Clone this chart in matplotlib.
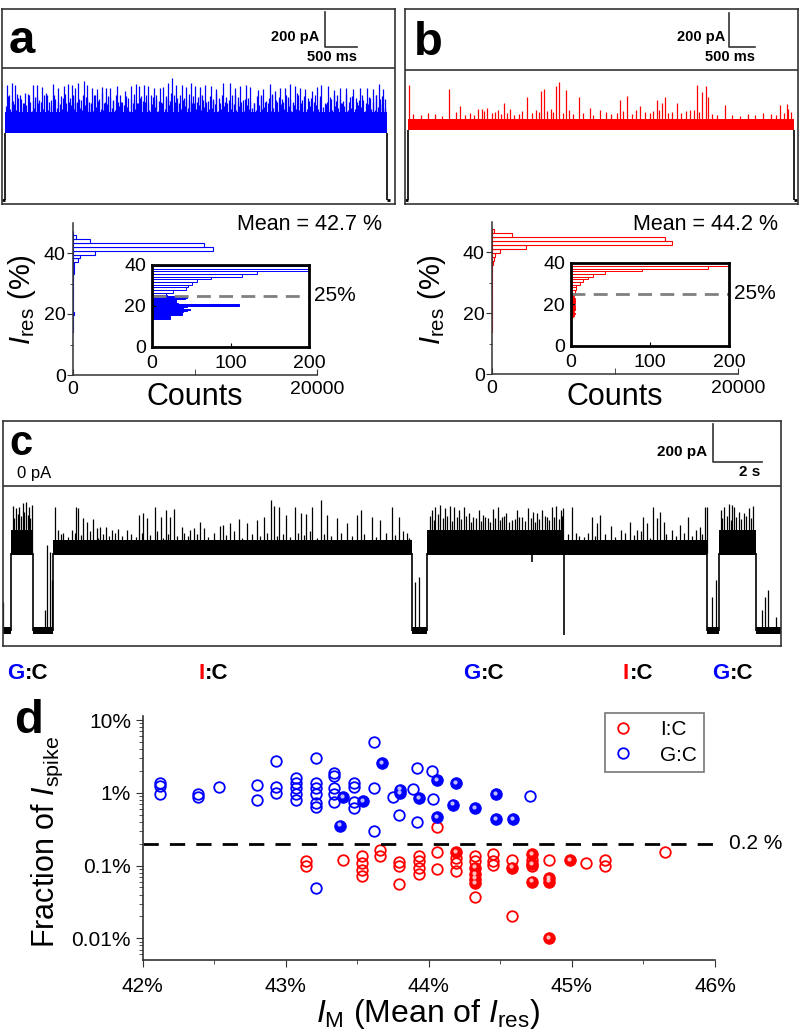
import matplotlib
matplotlib.use('Agg')
import matplotlib.pyplot as plt
from matplotlib.ticker import FixedLocator, NullFormatter, LogLocator
from matplotlib import transforms
from matplotlib.text import Annotation

plt.rcParams['font.family'] = ['Liberation Sans', 'DejaVu Sans']
plt.rcParams['mathtext.fontset'] = 'custom'
plt.rcParams['mathtext.rm'] = 'Liberation Sans'
plt.rcParams['mathtext.it'] = 'Liberation Sans:italic'
plt.rcParams['mathtext.bf'] = 'Liberation Sans:bold'

BLUE = '#0000ff'
RED = '#ff0000'
FRAME = '#333333'

# ------------------------------------------------------------------ data
# panel a trace (time s, current pA)
a_t_end = 5.97
a_open = -752.0
a_band = (-368.0, -248.0)
a_spk_t = [0.04, 0.11, 0.16, 0.24, 0.32, 0.45, 0.50, 0.58, 0.66, 0.75, 0.84, 0.92, 0.99, 1.05, 1.10,
           1.15, 1.24, 1.29, 1.36, 1.44, 1.52, 1.58, 1.65, 1.75, 1.88, 1.98, 2.05, 2.10, 2.17, 2.24,
           2.33, 2.42, 2.48, 2.55, 2.61, 2.68, 2.77, 2.84, 2.91, 2.97, 3.05, 3.13, 3.22, 3.31, 3.41,
           3.52, 3.60, 3.68, 3.77, 3.84, 3.96, 4.04, 4.14, 4.22, 4.30, 4.38, 4.46, 4.54, 4.61, 4.69,
           4.80, 4.88, 4.95, 5.06, 5.14, 5.24, 5.34, 5.45, 5.55, 5.66, 5.76, 5.85, 5.92]
a_spk_i = [-95, -85, -95, -152, -140, -95, -95, -105, -150, -90, -110, -100, -90, -95, -110,
           -85, -70, -95, -110, -120, -105, -115, -110, -100, -130, -100, -90, -100, -95, -100,
           -115, -110, -105, -85, -57, -95, -95, -105, -85, -100, -105, -95, -100, -120, -85,
           -85, -110, -100, -95, -105, -125, -120, -90, -130, -110, -115, -90, -100, -110, -120,
           -130, -105, -95, -100, -125, -115, -115, -120, -110, -115, -120, -90, -120]
a_mid_t = [0.07, 0.13, 0.20, 0.28, 0.36, 0.40, 0.48, 0.54, 0.62, 0.70, 0.79, 0.88, 0.96, 1.02, 1.07,
           1.13, 1.19, 1.27, 1.32, 1.40, 1.48, 1.55, 1.62, 1.70, 1.80, 1.84, 1.93, 2.02, 2.08, 2.13,
           2.20, 2.28, 2.37, 2.45, 2.52, 2.58, 2.64, 2.72, 2.80, 2.88, 2.94, 3.01, 3.09, 3.17, 3.26,
           3.36, 3.46, 3.56, 3.64, 3.72, 3.80, 3.90, 4.00, 4.09, 4.18, 4.26, 4.34, 4.42, 4.50, 4.58,
           4.65, 4.74, 4.84, 4.92, 5.00, 5.10, 5.19, 5.29, 5.40, 5.50, 5.60, 5.71, 5.81, 5.89, 5.95]
a_mid_i = [-155, -185, -170, -200, -145, -195, -165, -180, -150, -190, -175, -160, -200, -170, -150,
           -190, -180, -165, -195, -155, -175, -200, -160, -185, -150, -195, -170, -180, -200, -160,
           -190, -155, -175, -195, -165, -185, -150, -200, -170, -180, -160, -195, -155, -185, -175,
           -200, -165, -150, -190, -180, -170, -200, -160, -185, -155, -195, -175, -165, -200, -150,
           -180, -170, -190, -160, -200, -175, -155, -185, -165, -195, -180, -170, -150, -200, -175]
a_mid2_t = [0.055, 0.12, 0.185, 0.25, 0.30, 0.38, 0.445, 0.505, 0.565, 0.645,
            0.72, 0.77, 0.83, 0.905, 0.935, 1.01, 1.06, 1.10, 1.16, 1.225,
            1.285, 1.355, 1.41, 1.465, 1.515, 1.575, 1.64, 1.685, 1.74, 1.775,
            1.825, 1.89, 1.97, 2.015, 2.07, 2.12, 2.16, 2.21, 2.245, 2.32,
            2.36, 2.41, 2.465, 2.515, 2.545, 2.60, 2.655, 2.69, 2.735, 2.78,
            2.835, 2.875, 2.905, 2.96, 3.02, 3.06, 3.10, 3.14, 3.21, 3.25,
            3.30, 3.35, 3.40, 3.45, 3.50, 3.55, 3.595, 3.64, 3.69, 3.76,
            3.835, 3.89, 3.95, 4.01, 4.075, 4.125, 4.175, 4.235, 4.29, 4.345,
            4.395, 4.455, 4.51, 4.57, 4.625, 4.685, 4.75, 4.79, 4.855, 4.935,
            5.04, 5.09, 5.145, 5.185, 5.235, 5.275, 5.33, 5.38, 5.435, 5.49,
            5.54, 5.59, 5.65, 5.70, 5.75, 5.80, 5.86, 5.90]
a_mid2_i = [-160, -190, -145, -175, -200, -150, -185, -165, -195, -140,
            -180, -155, -195, -170, -145, -190, -160, -200, -175, -150,
            -170, -200, -155, -185, -140, -195, -165, -180, -150, -190,
            -195, -160, -175, -145, -200, -170, -185, -155, -190, -165,
            -150, -185, -200, -160, -175, -140, -195, -170, -155, -180,
            -175, -145, -190, -200, -165, -150, -180, -195, -160, -185,
            -140, -170, -155, -190, -180, -200, -150, -165, -195, -175,
            -185, -200, -160, -150, -190, -170, -145, -180, -165, -195,
            -155, -175, -190, -140, -200, -160, -185, -170, -150, -180,
            -195, -165, -150, -185, -175, -200, -145, -190, -160, -170,
            -180, -155, -200, -165, -190, -150, -175, -160]
a_low_t = [0.02, 0.09, 0.145, 0.18, 0.26, 0.34, 0.43, 0.465, 0.52, 0.60, 0.68, 0.73, 0.815, 0.86,
           0.90, 0.94, 0.975, 1.035, 1.085, 1.125, 1.17, 1.21, 1.255, 1.31, 1.345, 1.38, 1.42, 1.46,
           1.50, 1.535, 1.60, 1.68, 1.725, 1.78, 1.82, 1.86, 1.905, 1.95, 2.0, 2.035, 2.115, 2.155,
           2.19, 2.26, 2.30, 2.35, 2.39, 2.44, 2.50, 2.57, 2.62, 2.66, 2.70, 2.75, 2.79, 2.82, 2.86,
           2.93, 2.99, 3.03, 3.07, 3.11, 3.15, 3.19, 3.24, 3.285, 3.33, 3.385, 3.43, 3.48, 3.54,
           3.58, 3.62, 3.66, 3.70, 3.74, 3.79, 3.82, 3.87, 3.93, 3.98, 4.02, 4.06, 4.11, 4.16, 4.20,
           4.24, 4.28, 4.32, 4.36, 4.40, 4.44, 4.48, 4.52, 4.56, 4.60, 4.63, 4.67, 4.72, 4.77, 4.82,
           4.86, 4.90, 4.97, 5.02, 5.08, 5.12, 5.16, 5.21, 5.26, 5.31, 5.36, 5.42, 5.47, 5.52, 5.57,
           5.63, 5.68, 5.73, 5.78, 5.83, 5.87, 5.91, 5.94]
a_low_i = [-215, -235, -205, -240, -220, -210, -245, -225, -200, -230,
           -240, -215, -225, -205, -235, -220, -245, -210, -230, -200,
           -225, -240, -210, -235, -205, -245, -220, -215, -230, -240,
           -205, -225, -240, -215, -235, -210, -220, -245, -200, -230,
           -235, -210, -225, -240, -205, -220, -245, -215, -230, -210,
           -220, -245, -205, -230, -240, -215, -225, -200, -235, -210,
           -240, -220, -210, -235, -225, -205, -245, -230, -215, -200,
           -230, -205, -240, -215, -220, -245, -210, -235, -225, -240,
           -210, -235, -220, -200, -245, -225, -215, -240, -205, -230,
           -225, -215, -245, -210, -235, -240, -205, -220, -230, -215,
           -245, -210, -230, -220, -205, -235, -240, -215, -225, -200,
           -215, -240, -225, -235, -210, -220, -245, -205, -230, -240,
           -220, -210, -235, -225]

# panel b trace
b_t_end = 7.51
b_open = -779.0
b_band = (-362.0, -296.0)
b_spk_t = [0.02, 0.80, 1.01, 1.36, 1.43, 1.54, 1.75, 1.86, 1.98, 2.30, 2.59, 2.64, 2.87, 2.94, 3.07,
           3.33, 3.53, 3.73, 4.12, 4.25, 4.51, 4.83, 4.93, 4.99, 5.22, 5.48, 5.61, 5.71, 5.79, 5.82,
           6.16, 7.23, 7.37, 7.39]
b_spk_i = [-90, -116, -216, -236, -236, -230, -240, -196, -236, -164, -124, -116, -96, -70, -120,
           -160, -230, -240, -180, -156, -216, -180, -200, -164, -200, -240, -90, -130, -96, -164,
           -210, -210, -204, -236]
b_mid_t = [0.10, 0.25, 0.38, 0.52, 0.65, 0.92, 1.10, 1.20, 1.28, 1.48, 1.62, 1.68, 1.80, 1.92, 2.05,
           2.15, 2.22, 2.40, 2.48, 2.55, 2.70, 2.78, 2.82, 3.00, 3.12, 3.20, 3.40, 3.60, 3.85, 3.95,
           4.05, 4.18, 4.35, 4.42, 4.60, 4.70, 4.76, 4.88, 5.05, 5.12, 5.30, 5.40, 5.55, 5.66, 5.90,
           6.00, 6.30, 6.45, 6.60, 6.75, 6.90, 7.05, 7.15, 7.30, 7.45]
b_mid_i = [-265, -270, -255, -262, -275, -250, -268, -258, -272, -245, -260, -250, -266, -255, -270,
           -262, -248, -258, -240, -252, -245, -235, -250, -255, -240, -262, -258, -270, -250, -262,
           -255, -248, -266, -240, -250, -255, -245, -238, -260, -250, -256, -248, -240, -252, -262,
           -270, -268, -275, -262, -270, -258, -265, -272, -255, -250]

# panel c trace: segments (start, end, state)
c_seg_start = [0.00, 0.34, 1.27, 2.09, 16.94, 17.56, 23.21, 29.12, 29.63, 31.15]
c_seg_end = [0.34, 1.27, 2.09, 16.94, 17.56, 23.21, 29.12, 29.63, 31.15, 32.20]
c_seg_state = ['open', 'GC', 'open', 'IC', 'open', 'GC', 'IC', 'open', 'GC', 'open']
c_band = {'open': (-785.0, -748.0), 'GC': (-368.0, -235.0), 'IC': (-368.0, -290.0)}
c_spk_t = [0.41, 0.55, 0.69, 0.83, 0.96, 1.10, 1.20, 0.45, 0.62, 0.75, 0.90, 1.05, 1.15,
           2.17, 2.30, 2.51, 2.86, 3.04, 3.13, 3.34, 3.50, 3.73, 3.89, 4.03, 4.28, 4.51, 4.79, 5.13,
           5.62, 5.80, 5.96, 6.31, 6.54, 6.76, 6.93, 7.09, 7.41, 7.76, 7.92, 8.17, 8.34, 9.00, 9.11,
           9.41, 9.76, 10.10, 10.52, 10.79, 11.10, 11.23, 11.45, 11.73, 12.10, 12.34, 12.56, 12.79,
           13.18, 13.41, 13.83, 14.24, 14.66, 14.84, 15.28, 15.62, 16.11, 16.38, 16.73,
           17.76, 17.90, 18.11, 18.31, 18.52, 18.66, 18.87, 19.07, 19.28, 19.46, 19.70, 19.87, 20.07,
           20.29, 20.48, 20.66, 20.84, 21.08, 21.28, 21.49, 21.72, 21.95, 22.11, 22.32, 22.52, 22.73,
           22.91, 23.08, 23.19,
           17.68, 17.83, 18.00, 18.20, 18.40, 18.60, 18.78, 18.97, 19.17, 19.37, 19.58, 19.78, 19.97,
           20.18, 20.38, 20.57, 20.75, 20.96, 21.18, 21.38, 21.60, 21.84, 22.03, 22.20, 22.42, 22.62,
           22.82, 23.00, 23.14,
           23.56, 23.70, 24.04, 24.39, 24.59, 24.73, 25.15, 25.56, 25.97, 26.25, 26.50, 26.66, 26.91,
           27.05, 27.19, 27.35, 27.70, 28.04, 28.35, 28.67, 28.85, 29.04, 29.12,
           29.70, 29.84, 30.05, 30.19, 30.25, 30.46, 30.67, 30.88, 31.06,
           29.77, 29.95, 30.12, 30.35, 30.56, 30.77, 30.97]
c_spk_i = [-108, -120, -115, -93, -85, -111, -102, -170, -150, -160, -140, -155, -170,
           -111, -235, -252, -235, -115, -120, -173, -191, -178, -226, -217, -217, -235, -231, -235,
           -155, -143, -173, -115, -164, -129, -164, -125, -217, -235, -226, -191, -226, -214, -208,
           -200, -178, -196, -182, -164, -78, -108, -115, -155, -115, -143, -150, -115,
           -78, -155, -173, -200, -155, -129, -164, -182, -115, -164, -252,
           -129, -115, -102, -120, -108, -115, -129, -115, -146, -164, -129, -155, -173,
           -125, -115, -164, -146, -182, -129, -164, -120, -138, -146, -129, -164, -115,
           -108, -129, -120,
           -160, -180, -150, -170, -160, -185, -165, -175, -160, -190, -170, -185, -165,
           -190, -170, -180, -160, -190, -175, -165, -185, -170, -190, -175, -160, -180,
           -165, -175, -160,
           -115, -252, -270, -164, -200, -155, -214, -235, -191, -235, -164, -200, -115,
           -173, -138, -191, -235, -208, -168, -235, -221, -115, -113,
           -129, -115, -97, -102, -115, -138, -146, -120, -108,
           -170, -160, -180, -165, -175, -160, -170]
c_fuzz_t = [2.4, 2.7, 3.0, 3.25, 3.6, 3.95, 4.15, 4.4, 4.65, 4.95, 5.3, 5.5, 5.75, 6.1, 6.4, 6.65,
            6.85, 7.2, 7.5, 7.65, 8.05, 8.5, 8.75, 9.25, 9.55, 9.9, 10.3, 10.65, 10.95, 11.35, 11.6,
            11.9, 12.2, 12.45, 12.7, 13.0, 13.3, 13.6, 14.0, 14.45, 14.95, 15.45, 15.85, 16.25,
            16.55, 16.8, 23.4, 23.85, 24.2, 24.5, 24.9, 25.35, 25.75, 26.1, 26.4, 26.8, 27.45,
            27.85, 28.2, 28.5, 28.95]
c_fuzz_i = [-255, -270, -248, -262, -240, -275, -258, -265, -250, -268, -255, -270, -248, -262,
            -240, -275, -258, -265, -250, -268, -255, -270, -248, -262, -240, -275, -258, -265,
            -250, -268, -255, -270, -248, -262, -240, -275, -258, -265, -250, -268, -255, -270,
            -248, -262, -240, -275, -258, -265, -250, -268, -255, -270, -248, -262, -240, -275,
            -258, -265, -250, -268, -255]
c_ospk_t = [0.02, 1.75, 1.85, 1.96, 2.03, 17.07, 17.24, 29.36, 29.50, 31.43, 31.52, 31.66, 31.98]
c_ospk_i = [-615, -660, -315, -350, -500, -510, -485, -590, -500, -660, -590, -555, -695]
c_dn_t = [21.90, 23.21]
c_dn_i = [-403, -790]
c_label_base = ['G', 'I', 'G', 'I', 'G']

# histograms: lower bin edge (%), bin width (%), counts
a_lo = [13.7, 14.2, 14.7, 15.2, 15.7, 16.2, 16.7, 17.2, 17.7, 18.2, 18.7, 19.2, 19.7, 20.2, 20.7,
        21.2, 21.7, 22.2, 22.7, 23.2, 23.7, 24.2, 24.7,
        25.2, 26.5, 27.8, 29.1, 30.4, 31.7, 33.0, 34.3, 35.6, 36.9, 38.2, 39.5, 40.8, 42.1, 43.4,
        44.7, 46.0]
a_w = [0.5] * 23 + [1.3] * 17
a_cnt = [23, 23, 23, 23, 38, 38, 38, 40, 45, 48, 40, 45, 111, 111, 33, 31, 31, 31, 31, 42, 45, 40, 20,
         18, 27, 44, 46, 51, 58, 75, 115, 133, 400, 590, 1800, 11500, 10800, 1400, 250, 60]
b_lo = [14.0, 14.5, 15.0, 15.5, 16.0, 16.5, 17.0, 17.5, 18.0, 18.5, 19.0, 19.5, 20.0, 20.5, 21.0,
        21.5, 22.0, 22.5, 23.0, 23.5, 24.0, 24.5, 25.0,
        25.5, 26.8, 28.1, 29.4, 30.7, 32.0, 33.3, 34.6, 35.9, 37.2, 38.5, 39.8, 41.1, 42.4, 43.7,
        45.0, 46.3]
b_w = [0.5] * 23 + [1.3] * 17
b_cnt = [3, 4, 3, 5, 4, 3, 4, 5, 6, 4, 5, 4, 3, 5, 6, 5, 4, 5, 4, 3, 4, 5, 3,
         6, 7, 7, 12, 16, 22, 28, 43, 90, 173, 270, 670, 2780, 14600, 14050, 1620, 200]
a_mean_text = 'Mean = 42.7 %'
b_mean_text = 'Mean = 44.2 %'

# panel d: I_M (%) and fraction of I_spike (%)
gc_open_x = [42.12, 42.12, 42.12, 42.39, 42.39, 42.53, 42.80, 42.80, 42.93, 42.93, 42.93,
             43.07, 43.07, 43.07, 43.07, 43.07, 43.21, 43.21, 43.21, 43.21, 43.21, 43.21, 43.21,
             43.34, 43.34, 43.34, 43.34, 43.34, 43.48, 43.48, 43.48, 43.48, 43.62, 43.62, 43.62,
             43.75, 43.79, 43.89, 43.92, 43.92, 44.02, 44.03, 44.71]
gc_open_y = [1.35, 1.25, 0.95, 0.95, 0.88, 1.21, 1.30, 0.81, 2.74, 1.21, 1.01,
             1.61, 1.38, 1.15, 0.95, 0.80, 3.06, 1.38, 1.15, 0.95, 0.73, 0.64, 0.049,
             1.85, 1.72, 1.15, 0.95, 0.76, 1.35, 1.21, 0.75, 0.62, 4.94, 1.17, 0.30,
             0.88, 0.50, 1.12, 2.22, 0.40, 2.00, 0.83, 0.91]
gc_fill_x = [43.38, 43.40, 43.54, 43.67, 43.80, 43.80, 43.93, 44.06, 44.06, 44.19, 44.17, 44.32,
             44.47, 44.47, 44.59]
gc_fill_y = [0.355, 0.88, 0.77, 2.55, 1.11, 0.98, 0.85, 1.50, 0.46, 1.35, 0.69, 0.61,
             0.97, 0.44, 0.44]
ic_open_x = [43.14, 43.14, 43.40, 43.53, 43.53, 43.53, 43.53, 43.66, 43.66, 43.79, 43.79, 43.79,
             43.93, 43.93, 43.93, 43.93, 44.06, 44.06, 44.06, 44.19, 44.19, 44.19, 44.32, 44.32,
             44.32, 44.45, 44.45, 44.45, 44.58, 44.58, 44.72, 44.72, 44.84, 45.10, 45.23, 45.23,
             45.65]
ic_open_y = [0.114, 0.099, 0.12, 0.137, 0.108, 0.087, 0.072, 0.164, 0.137, 0.113, 0.099, 0.055,
             0.137, 0.116, 0.094, 0.076, 0.152, 0.091, 0.34, 0.129, 0.110, 0.085, 0.137, 0.116,
             0.037, 0.144, 0.116, 0.101, 0.12, 0.020, 0.12, 0.10, 0.12, 0.11, 0.12, 0.099,
             0.152]
ic_fill_x = [44.19, 44.32, 44.32, 44.32, 44.32, 44.58, 44.72, 44.72, 44.72, 44.84, 44.84, 44.84,
             44.99]
ic_fill_y = [0.152, 0.094, 0.076, 0.066, 0.057, 0.094, 0.145, 0.105, 0.060, 0.068, 0.060, 0.0100,
             0.12]
threshold = 0.2

# ------------------------------------------------------------------ layout helpers
W, H = 800, 1029
fig = plt.figure(figsize=(8, 10.29), dpi=100)


def rect(l, t, r, b):
    return [l / W, 1 - b / H, (r - l) / W, (b - t) / H]


def ftext(x, y, s, **kw):
    return fig.text(x / W, 1 - y / H, s, **kw)


def trace_axes(box, xlim, ylim):
    ax = fig.add_axes(rect(*box))
    ax.set_xlim(*xlim)
    ax.set_ylim(*ylim)
    ax.set_xticks([])
    ax.set_yticks([])
    for s in ax.spines.values():
        s.set_linewidth(1.2)
        s.set_color(FRAME)
    ax.axhline(0, color=FRAME, lw=1.2)
    return ax


# ------------------------------------------------------------------ panel a / b traces
for box, xlim, ylim, t_end, opn, band, spikes, col, sb in [
        ((1.7, 9.3, 395, 204), (-0.047, 6.10), (-775, 337), a_t_end, a_open, a_band,
         [(a_low_t, a_low_i), (a_mid_t, a_mid_i), (a_mid2_t, a_mid2_i), (a_spk_t, a_spk_i)],
         BLUE, (5.0, 123, 0.5, 200)),
        ((405, 9.3, 798, 204), (-0.064, 7.58), (-803, 364), b_t_end, b_open, b_band,
         [(b_mid_t, b_mid_i), (b_spk_t, b_spk_i)], RED, (6.245, 140, 0.5, 200))]:
    ax = trace_axes(box, xlim, ylim)
    ax.hlines([opn, opn], [xlim[0], t_end], [0, t_end + 0.05], color='k', lw=2)
    ax.vlines([0, t_end], opn, band[0], color='k', lw=1.2)
    ax.fill_between([0, t_end], band[0], band[1], color=col, lw=0)
    for st, si in spikes:
        ax.vlines(st, band[1], si, color=col, lw=0.9)
    x0, y0, dx, dy = sb
    ax.plot([x0, x0, x0 + dx], [y0 + dy, y0, y0], color=FRAME, lw=1.2)
    ax.text(x0 - 0.08, y0 + 0.28 * dy, '200 pA', ha='right', va='center', fontsize=10.5,
            fontweight='bold')
    ax.text(x0 + dx, y0 - 0.3 * dy, '500 ms', ha='right', va='center', fontsize=10.5,
            fontweight='bold')

ftext(9, 53, 'a', fontsize=34, fontweight='bold', va='baseline')
ftext(414, 55, 'b', fontsize=34, fontweight='bold', va='baseline')

# ------------------------------------------------------------------ histograms


def hist_pair(main_box, inset_box, lo, w, cnt, col, mean_text, mean_pos, ylab_pos, counts_pos):
    fc = [col if l < 25 else 'white' for l in lo]
    axm = fig.add_axes(rect(*main_box))
    axm.barh(lo, cnt, height=w, align='edge', color=fc, edgecolor=col, linewidth=0.8)
    axm.set_xlim(0, 20000)
    axm.set_ylim(0, 50)
    for s in ['top', 'right']:
        axm.spines[s].set_visible(False)
    for s in ['left', 'bottom']:
        axm.spines[s].set_color(FRAME)
        axm.spines[s].set_linewidth(1.1)
    axm.set_yticks([0, 20, 40])
    axm.set_yticks([10, 30], minor=True)
    axm.set_xticks([0, 20000])
    axm.set_xticks([10000], minor=True)
    axm.set_xticklabels(['0', '20000'])
    axm.tick_params(axis='y', which='major', direction='out', length=4, labelsize=14, pad=1,
                    color=FRAME)
    axm.tick_params(axis='y', which='minor', direction='out', length=2.5, color=FRAME)
    axm.tick_params(axis='x', which='both', direction='in', length=4, labelsize=14, pad=4,
                    color=FRAME)
    ftext(ylab_pos[0], ylab_pos[1], r'$\mathit{I}_{\mathrm{res}}$ (%)', rotation=90,
          ha='center', va='center', fontsize=21)
    ftext(counts_pos[0], counts_pos[1], 'Counts', ha='center', va='center', fontsize=22)
    ftext(mean_pos[0], mean_pos[1], mean_text, ha='right', va='center', fontsize=15.5)

    axi = fig.add_axes(rect(*inset_box))
    axi.barh(lo, cnt, height=w, align='edge', color=fc, edgecolor=col, linewidth=0.7)
    axi.set_xlim(0, 200)
    axi.set_ylim(0, 40)
    for s in axi.spines.values():
        s.set_linewidth(2)
        s.set_color('black')
    axi.set_yticks([0, 20, 40])
    axi.set_xticks([0, 100, 200])
    axi.tick_params(axis='y', direction='in', length=3, labelsize=14, pad=4)
    axi.tick_params(axis='x', direction='in', length=3, labelsize=14, pad=6)
    axi.axhline(25, color='#808080', lw=2, dashes=(5, 3))
    axi.text(1.03, 25, '25%', transform=axi.get_yaxis_transform(), ha='left', va='center',
             fontsize=15)
    return axm, axi


hist_pair((72.7, 222.5, 316.7, 375), (151.7, 265, 309.3, 346.7), a_lo, a_w, a_cnt, BLUE,
          a_mean_text, (382, 225), (22, 300), (195, 397))
hist_pair((491.7, 221.8, 738.3, 374.3), (570.7, 262.7, 729.3, 346), b_lo, b_w, b_cnt, RED,
          b_mean_text, (778, 225), (432, 300), (615, 397))

# ------------------------------------------------------------------ panel c
axc = trace_axes((2.7, 421, 781, 645.7), (0, 32.2), (-848, 343))
for s0, s1, st in zip(c_seg_start, c_seg_end, c_seg_state):
    lo, hi = c_band[st]
    axc.fill_between([s0, s1], lo, hi, color='k', lw=0)
trans = [c_seg_end[i] for i in range(len(c_seg_end) - 1)
         if 'open' in (c_seg_state[i], c_seg_state[i + 1])]
axc.vlines(trans, -770, -358, color='k', lw=1.2)
axc.vlines(c_spk_t, -358, c_spk_i, color='k', lw=0.9)
axc.vlines(c_fuzz_t, -358, c_fuzz_i, color='k', lw=0.9)
axc.vlines(c_ospk_t, -765, c_ospk_i, color='k', lw=0.9)
axc.vlines(c_dn_t, -358, c_dn_i, color='k', lw=1.2)
axc.plot([29.40, 29.40, 31.40], [327, 127, 127], color=FRAME, lw=1.2)
axc.text(29.15, 179, '200 pA', ha='right', va='center', fontsize=11, fontweight='bold')
axc.text(31.36, 71, '2 s', ha='right', va='center', fontsize=11, fontweight='bold')
axc.text(0.59, 67, '0 pA', ha='left', va='center', fontsize=12)
ftext(9, 455, 'c', fontsize=30, fontweight='bold', va='baseline')

lab_x = [6.7, 198.3, 463.3, 622.7, 711.7]
for x, base in zip(lab_x, c_label_base):
    t1 = ftext(x, 679, base, fontsize=16, fontweight='bold', va='baseline',
               color=BLUE if base == 'G' else RED)
    fig.add_artist(Annotation(':C', xy=(1, 0), xycoords=t1, xytext=(0.5, 0),
                              textcoords='offset points', fontsize=16, fontweight='bold',
                              va='bottom', ha='left', color='k'))

# ------------------------------------------------------------------ panel d
axd = fig.add_axes(rect(142.7, 716, 715, 960))
axd.set_yscale('log')
axd.set_xlim(42, 46)
axd.set_ylim(0.00503, 11.4)
axd.plot(ic_open_x, ic_open_y, 'o', ms=7.6, mfc='none', mec=RED, mew=1.3, label='I:C')
axd.plot(gc_open_x, gc_open_y, 'o', ms=7.6, mfc='none', mec=BLUE, mew=1.3, label='G:C')
hl = transforms.offset_copy(axd.transData, fig=fig, x=-0.8, y=0.9, units='points')
for xs, ys, col in [(gc_fill_x, gc_fill_y, BLUE), (ic_fill_x, ic_fill_y, RED)]:
    axd.plot(xs, ys, 'o', ms=8.2, mfc=col, mec=col, mew=0.8)
    axd.plot(xs, ys, 'o', ms=3.0, mfc='white', mec='none', alpha=0.75, transform=hl)
axd.axhline(threshold, color='k', lw=2, dashes=(5.5, 4))
axd.text(46.1, threshold, '0.2 %', ha='left', va='center', fontsize=15)
for s in ['top', 'right']:
    axd.spines[s].set_visible(False)
for s in ['left', 'bottom']:
    axd.spines[s].set_linewidth(1.2)
    axd.spines[s].set_color(FRAME)
axd.yaxis.set_major_locator(FixedLocator([0.01, 0.1, 1, 10]))
axd.set_yticklabels(['0.01%', '0.1%', '1%', '10%'])
axd.yaxis.set_minor_locator(LogLocator(base=10, subs=range(2, 10), numticks=20))
axd.yaxis.set_minor_formatter(NullFormatter())
axd.set_xticks([42, 43, 44, 45, 46])
axd.set_xticklabels(['42%', '43%', '44%', '45%', '46%'])
axd.set_xticks([42.5, 43.5, 44.5, 45.5], minor=True)
axd.tick_params(axis='both', which='major', direction='out', length=5, labelsize=15, color=FRAME)
axd.tick_params(axis='both', which='minor', direction='out', length=3, color=FRAME)
axd.tick_params(axis='x', which='major', pad=7)
ftext(47, 842, r'Fraction of $\mathit{I}_{\mathrm{spike}}$', rotation=90, ha='center',
      va='center', fontsize=22)
ftext(428, 1022, r'$\mathit{I}_{\mathrm{M}}$ (Mean of $\mathit{I}_{\mathrm{res}}$)', ha='center',
      va='baseline', fontsize=23)
ftext(14, 733, 'd', fontsize=34, fontweight='bold', va='baseline')
leg = axd.legend(loc='upper left', bbox_to_anchor=(605 / W, 1 - 713 / H),
                 bbox_transform=fig.transFigure, frameon=True, fancybox=False, fontsize=15,
                 handletextpad=1.3, borderpad=0.35, labelspacing=0.3, handlelength=1.0,
                 borderaxespad=0)
leg.get_frame().set_edgecolor('#555555')
leg.get_frame().set_linewidth(1.2)

fig.savefig('out.png', dpi=100)
